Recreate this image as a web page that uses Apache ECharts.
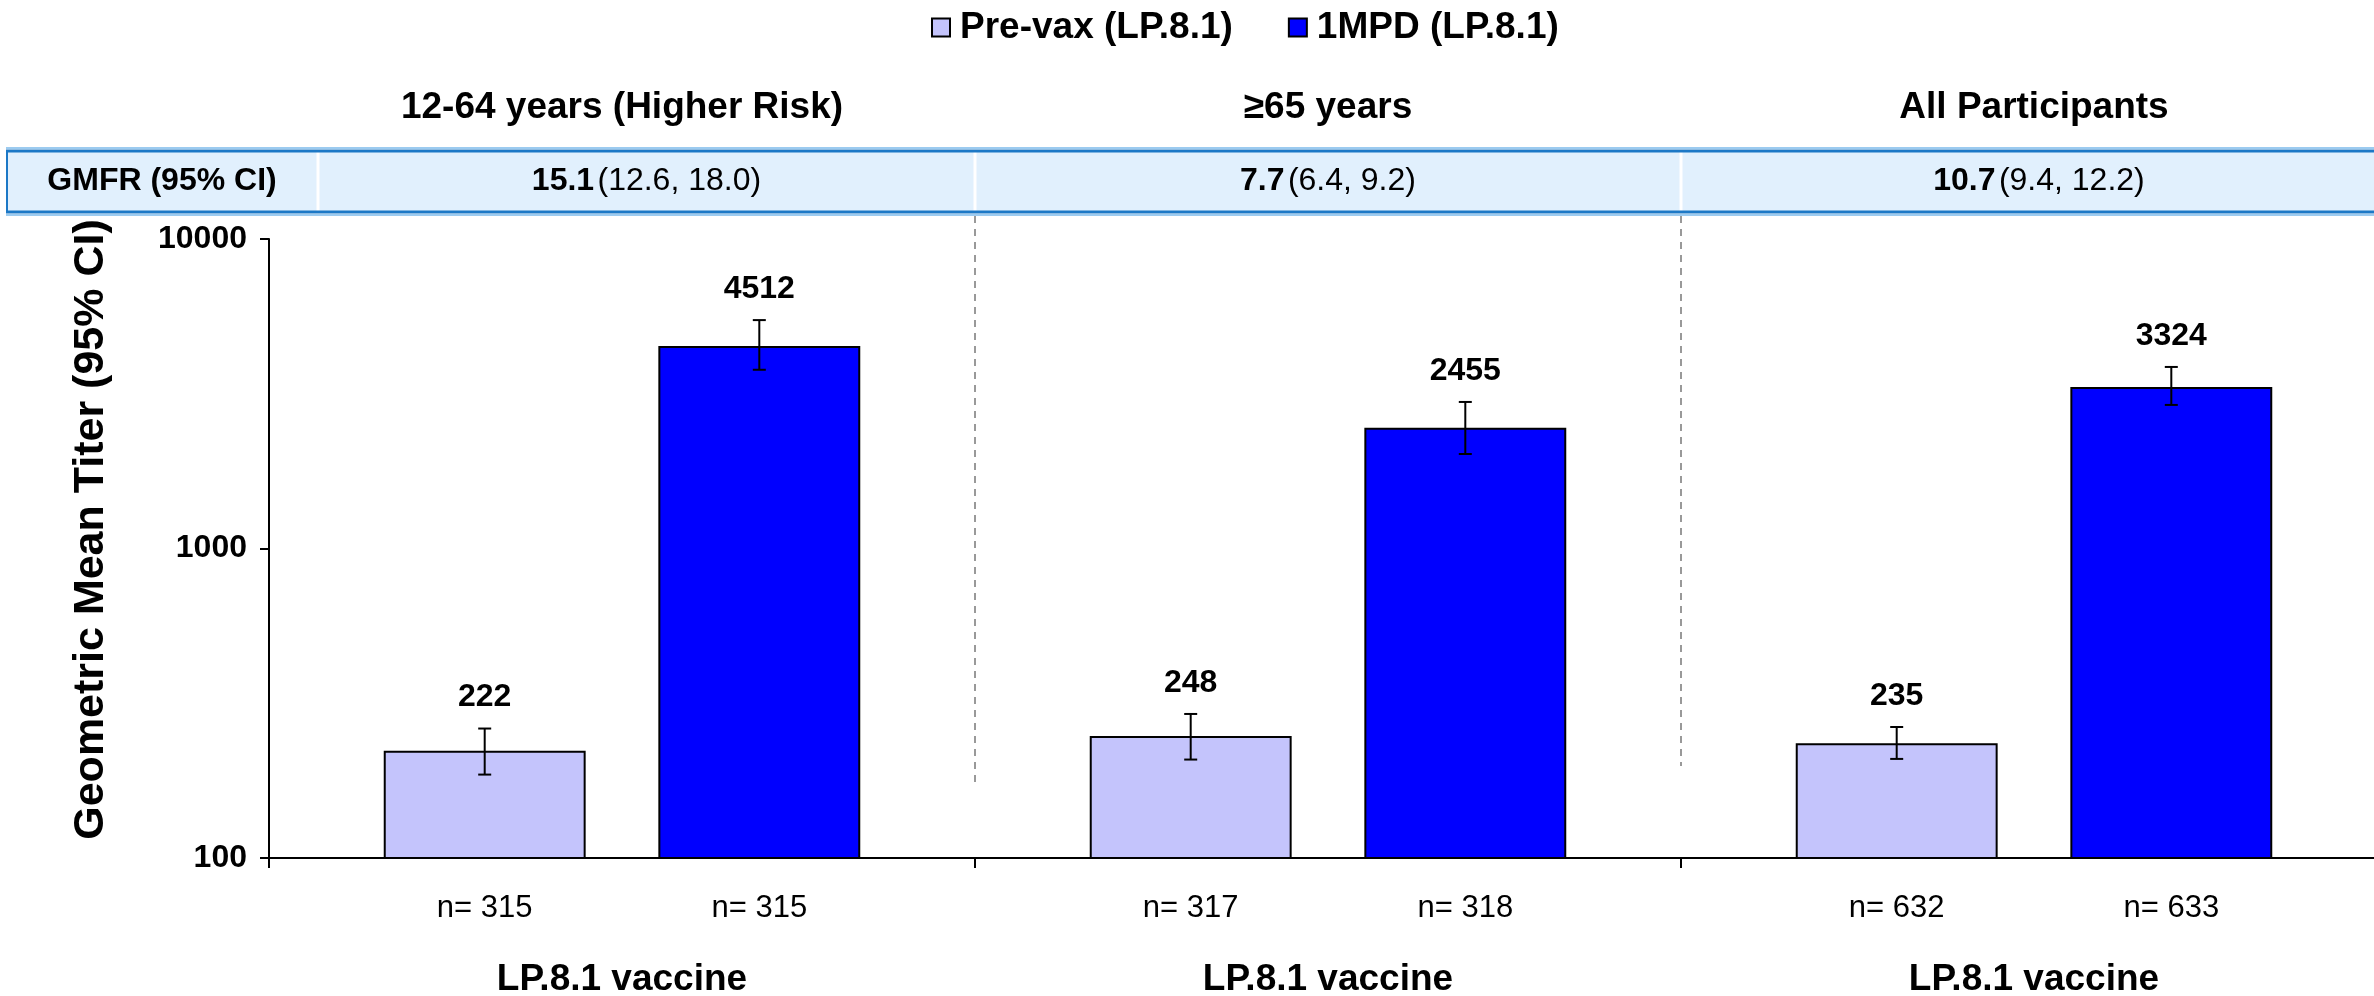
<!DOCTYPE html>
<html><head><meta charset="utf-8">
<script src="https://cdn.jsdelivr.net/npm/echarts@6/dist/echarts.min.js"></script>
<style>html,body{margin:0;padding:0;background:#fff}#c{width:2374px;height:996px}</style>
</head><body><div id="c"></div>
<script>
// ---------- data ----------
const groupTitles = ['12-64 years (Higher Risk)', '≥65 years', 'All Participants'];
const vaccineLabels = ['LP.8.1 vaccine', 'LP.8.1 vaccine', 'LP.8.1 vaccine'];
const seriesNames = ['Pre-vax (LP.8.1)', '1MPD (LP.8.1)'];
const preVaxGMT = [222, 248, 235];
const preVaxLow = [186, 208, 209];
const preVaxHigh = [262, 292, 265];
const preVaxN = [315, 317, 632];
const postGMT = [4512, 2455, 3324];
const postLow = [3780, 2020, 2910];
const postHigh = [5470, 2975, 3860];
const postN = [315, 318, 633];
const gmfr = [15.1, 7.7, 10.7];
const gmfrLow = [12.6, 6.4, 9.4];
const gmfrHigh = [18.0, 9.2, 12.2];
const tableHeader = 'GMFR (95% CI)';
const yTicks = [100, 1000, 10000];
const yTitle = 'Geometric Mean Titer (95% CI)';

// ---------- style ----------
const FONT = "'Liberation Sans', Arial, Helvetica, sans-serif";
const BAR_FRAC = 0.286, GAP_FRAC = 0.36;
const PRE_COLOR = '#C4C4FC', POST_COLOR = '#0000FF';

const chart = echarts.init(document.getElementById('c'), null, {renderer: 'canvas'});

function errSeries(name, low, high, gmt, ns, sign) {
  return {
    type: 'custom', name: name, xAxisIndex: 0, yAxisIndex: 0, z: 10, silent: true, clip: false,
    data: groupTitles.map((g, i) => [i, low[i], high[i], gmt[i], ns[i]]),
    encode: {x: 0, y: [1, 2]},
    renderItem: function (params, api) {
      const i = api.value(0);
      const band = api.size([1, 1], [i, 1000])[0];
      const cx = api.coord([i, api.value(3)])[0] + sign * band * BAR_FRAC * (1 + GAP_FRAC) / 2;
      const yLo = api.coord([i, api.value(1)])[1];
      const yHi = api.coord([i, api.value(2)])[1];
      const yBase = api.coord([i, yTicks[0]])[1];
      const cap = 6.5;
      const ls = {stroke: '#000', lineWidth: 2};
      return {type: 'group', children: [
        {type: 'line', shape: {x1: cx, y1: yLo, x2: cx, y2: yHi}, style: ls},
        {type: 'line', shape: {x1: cx - cap, y1: yHi, x2: cx + cap, y2: yHi}, style: ls},
        {type: 'line', shape: {x1: cx - cap, y1: yLo, x2: cx + cap, y2: yLo}, style: ls},
        {type: 'text', x: cx, y: yHi - 31, style: {text: String(api.value(3)), align: 'center', verticalAlign: 'middle',
          fontSize: 32, fontWeight: 'bold', fontFamily: FONT, fill: '#000'}},
        {type: 'text', x: cx, y: yBase + 50, style: {text: 'n= ' + api.value(4), align: 'center', verticalAlign: 'middle',
          fontSize: 31, fontFamily: FONT, fill: '#000'}}
      ]};
    }
  };
}

const option = {
  animation: false,
  backgroundColor: '#fff',
  textStyle: {fontFamily: FONT},
  legend: {
    left: 926, top: 4, itemWidth: 18, itemHeight: 18, itemGap: 55, icon: 'rect',
    data: seriesNames,
    itemStyle: {borderColor: '#000', borderWidth: 2},
    textStyle: {fontSize: 37, fontWeight: 'bold', fontFamily: FONT, color: '#000', padding: [0, 0, 0, 5]}
  },
  grid: {left: 269, top: 239, width: 2118, height: 619, containLabel: false, outerBoundsMode: 'none'},
  xAxis: [
    {
      type: 'category', position: 'bottom', data: groupTitles,
      axisLine: {lineStyle: {color: '#000', width: 2}},
      axisTick: {show: true, length: 10, lineStyle: {color: '#000', width: 2}},
      axisLabel: {interval: 0, margin: 122, verticalAlign: 'middle', formatter: (v, i) => vaccineLabels[i],
        fontSize: 37, fontWeight: 'bold', fontFamily: FONT, color: '#000'},
      splitLine: {show: false}
    },
    {
      type: 'category', position: 'top', data: groupTitles,
      axisLine: {show: false}, axisTick: {show: false},
      axisLabel: {interval: 0, margin: 131, verticalAlign: 'middle',
        fontSize: 37, fontWeight: 'bold', fontFamily: FONT, color: '#000'},
      splitLine: {show: false}
    }
  ],
  yAxis: {
    type: 'log', logBase: 10, min: yTicks[0], max: yTicks[yTicks.length - 1],
    name: yTitle, nameLocation: 'middle', nameGap: 156,
    nameTextStyle: {fontSize: 43, fontWeight: 'bold', fontFamily: FONT, color: '#000', padding: [0, 0, 0, 38]},
    axisLine: {show: true, lineStyle: {color: '#000', width: 2}},
    axisTick: {show: true, length: 9, lineStyle: {color: '#000', width: 2}},
    minorTick: {show: false},
    axisLabel: {margin: 22, fontSize: 32, fontWeight: 'bold', fontFamily: FONT, color: '#000',
      formatter: v => String(v)},
    splitLine: {show: false}
  },
  series: [
    {
      type: 'bar', name: seriesNames[0], data: preVaxGMT, xAxisIndex: 0,
      barWidth: (BAR_FRAC * 100) + '%', barGap: (GAP_FRAC * 100) + '%',
      itemStyle: {color: PRE_COLOR, borderColor: '#000', borderWidth: 2}
    },
    {
      type: 'bar', name: seriesNames[1], data: postGMT, xAxisIndex: 0,
      barWidth: (BAR_FRAC * 100) + '%', barGap: (GAP_FRAC * 100) + '%',
      itemStyle: {color: POST_COLOR, borderColor: '#000', borderWidth: 2}
    },
    errSeries('err-pre', preVaxLow, preVaxHigh, preVaxGMT, preVaxN, -1),
    errSeries('err-post', postLow, postHigh, postGMT, postN, 1)
  ]
};
chart.setOption(option);

// ---------- table band and separators ----------
const centers = groupTitles.map((g, i) => chart.convertToPixel({xAxisIndex: 0}, i));
const band = centers[1] - centers[0];
const bounds = [centers[0] - band / 2].concat(centers.map(c => c + band / 2));
const TOP = 150, BOT = 213, LEFT = 6, HEAD_R = 318, RIGHT = 2420;
const cols = [[HEAD_R, bounds[1]], [bounds[1], bounds[2]], [bounds[2], bounds[3] + 10]];
const g = [];
g.push({type: 'rect', shape: {x: LEFT, y: TOP, width: RIGHT - LEFT, height: BOT - TOP}, style: {fill: '#E1F0FD'}, z: 1});
[HEAD_R, bounds[1], bounds[2]].forEach(x => g.push({type: 'line', shape: {x1: x, y1: TOP, x2: x, y2: BOT},
  style: {stroke: '#fff', lineWidth: 3}, z: 2}));
[[TOP - 2, '#9CCBF0', 2], [TOP + 1, '#1C78C6', 3], [BOT - 1, '#1C78C6', 3], [BOT + 2, '#9CCBF0', 2]].forEach(l =>
  g.push({type: 'line', shape: {x1: LEFT, y1: l[0], x2: RIGHT, y2: l[0]}, style: {stroke: l[1], lineWidth: l[2]}, z: 3}));
g.push({type: 'line', shape: {x1: LEFT + 1, y1: TOP, x2: LEFT + 1, y2: BOT}, style: {stroke: '#1C78C6', lineWidth: 2}, z: 3});
g.push({type: 'text', x: (LEFT + HEAD_R) / 2, y: (TOP + BOT) / 2, z: 4,
  style: {text: tableHeader, align: 'center', verticalAlign: 'middle', fontSize: 32, fontWeight: 'bold', fontFamily: FONT, fill: '#000'}});
cols.forEach((c, i) => g.push({type: 'text', x: (c[0] + c[1]) / 2, y: (TOP + BOT) / 2, z: 4,
  style: {text: '{b|' + gmfr[i].toFixed(1) + '} {r|(' + gmfrLow[i].toFixed(1) + ', ' + gmfrHigh[i].toFixed(1) + ')}',
    align: 'center', verticalAlign: 'middle', fill: '#000',
    rich: {b: {fontSize: 32, fontWeight: 'bold', fontFamily: FONT, fill: '#000'},
           r: {fontSize: 32, fontFamily: FONT, fill: '#000'}}}}));
const dashBottoms = [785, 766];
[bounds[1], bounds[2]].forEach((x, i) => g.push({type: 'line', shape: {x1: x, y1: BOT + 3, x2: x, y2: dashBottoms[i]},
  style: {stroke: '#999', lineWidth: 2, lineDash: [7, 6]}, z: 2}));
chart.setOption({graphic: g});
</script></body></html>
